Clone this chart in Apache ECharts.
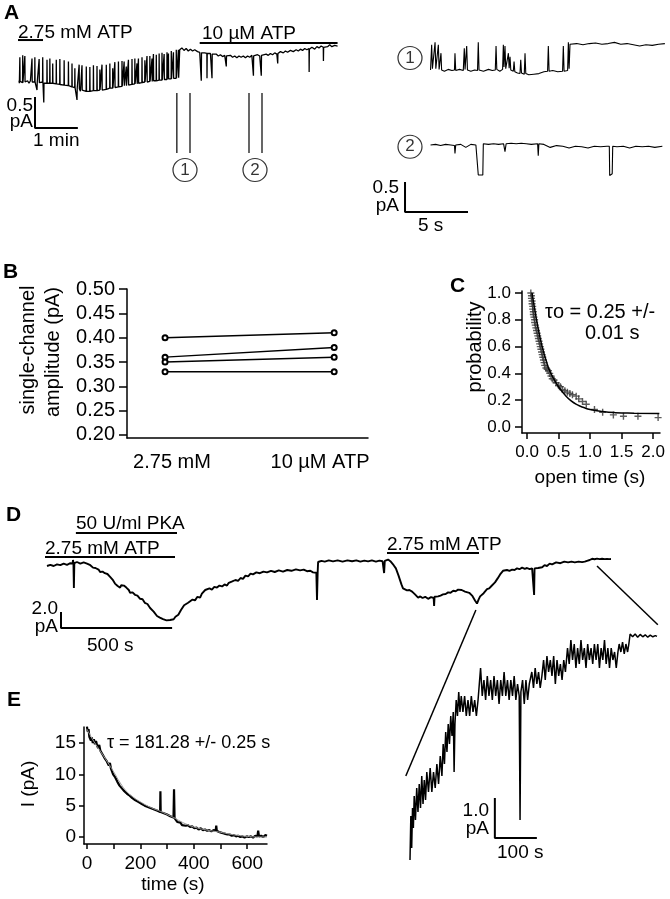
<!DOCTYPE html>
<html><head><meta charset="utf-8">
<script src="https://cdn.jsdelivr.net/npm/echarts@6/dist/echarts.min.js"></script>
<style>html,body{margin:0;padding:0;background:#fff}#c{width:670px;height:899px}</style>
</head><body><div id="c"></div>
<script>
// ---------- DATA ----------
// Panel A: long recording (time s, current pA rel. to start)
const traceA = [[0,0.02],[0.5,-0.02],[1,0.01],[1.2,0.40],[1.5,0.01],[3,-0.02],[5,-0.01],[5.2,0.43],[5.5,-0.01],[6.5,0.02],[8,0],[8.2,0.42],[8.5,0],[10,-0.03],[12,0.02],[14,-0.02],[16,0.02],[18,0],[18.2,0.38],[18.5,0],[20,-0.03],[22,0],[22.2,0.40],[22.5,0],[24,0.02],[25,-0.01],[25.2,-0.13],[25.5,-0.01],[27,0.02],[28,-0.01],[28.2,0.37],[28.5,-0.01],[30.5,-0.04],[33,0],[33.2,0.40],[33.5,0],[34.5,-0.02],[34.7,-0.33],[35,-0.02],[37,0.01],[39,-0.02],[39.2,0.36],[39.5,-0.02],[41,-0.05],[43,-0.02],[43.2,0.38],[43.5,-0.02],[45,0.01],[47,-0.02],[47.2,0.30],[47.5,-0.02],[50,-0.05],[52,-0.03],[52.2,0.36],[52.5,-0.03],[55,0.0],[57,-0.04],[57.2,0.37],[57.5,-0.04],[60,-0.07],[63,-0.05],[63.2,0.35],[63.5,-0.05],[66,-0.02],[69,-0.06],[69.2,0.33],[69.5,-0.06],[72,-0.09],[74,-0.08],[74.2,0.30],[74.5,-0.08],[76,-0.05],[78,-0.09],[78.2,0.22],[78.5,-0.09],[80,-0.12],[81,-0.10],[81.2,-0.29],[81.5,-0.10],[84,-0.11],[84.2,0.28],[84.5,-0.11],[86,-0.15],[88,-0.13],[88.2,0.27],[88.5,-0.13],[91,-0.11],[94,-0.15],[94.2,0.25],[94.5,-0.15],[97,-0.18],[99,-0.15],[99.2,0.24],[99.5,-0.15],[102,-0.12],[104,-0.14],[104.2,0.27],[104.5,-0.14],[107,-0.17],[109,-0.14],[109.2,0.26],[109.5,-0.14],[111,-0.11],[113,-0.13],[113.2,0.20],[113.5,-0.13],[116,-0.13],[116.2,0.28],[116.5,-0.13],[119,-0.16],[122,-0.12],[122.2,0.28],[122.5,-0.12],[125,-0.09],[127,-0.10],[127.2,0.30],[127.5,-0.10],[129,-0.13],[131,-0.10],[131.2,0.22],[131.5,-0.10],[134,-0.09],[134.2,0.32],[134.5,-0.09],[137,-0.06],[139,-0.08],[139.2,0.33],[139.5,-0.08],[142,-0.10],[144,-0.07],[144.2,0.34],[144.5,-0.07],[147,-0.06],[147.2,0.33],[147.5,-0.06],[150,-0.06],[150.2,0.25],[150.5,-0.06],[152,-0.03],[153,-0.05],[153.2,0.36],[153.5,-0.05],[156,-0.07],[158,-0.04],[158.2,0.37],[158.5,-0.04],[160,-0.01],[162,-0.03],[162.2,0.38],[162.5,-0.03],[165,-0.03],[165.2,0.30],[165.5,-0.03],[167,-0.02],[167.2,0.38],[167.5,-0.02],[170,0.01],[172,-0.01],[172.2,0.40],[172.5,-0.01],[174,-0.04],[176,0],[176.2,0.35],[176.5,0],[179,0],[179.2,0.42],[179.5,0],[181,0.03],[183,0.01],[183.2,0.42],[183.5,0.01],[186,0.01],[186.2,0.38],[186.5,0.01],[188,0.02],[188.2,0.45],[188.5,0.02],[190,-0.01],[192,0.02],[192.2,0.44],[192.5,0.02],[194,0.05],[196,0.03],[196.2,0.46],[196.5,0.03],[198,0],[200,0.03],[200.2,0.47],[200.5,0.03],[203,0.04],[203.2,0.45],[203.5,0.04],[205,0.07],[207,0.04],[207.2,0.48],[207.5,0.04],[209,0.05],[209.2,0.46],[209.5,0.05],[211,0.02],[213,0.05],[213.2,0.50],[213.5,0.05],[216,0.06],[216.2,0.48],[216.5,0.06],[218,0.09],[220,0.06],[220.2,0.52],[220.5,0.06],[223,0.07],[223.2,0.52],[223.5,0.07],[224.8,0.08],[225,0.52],[228,0.55],[231,0.51],[234,0.54],[237,0.50],[240,0.53],[243,0.50],[246,0.52],[250,0.49],[253,0.48],[255,0.47],[255.2,0.02],[255.5,0.47],[258,0.44],[260,0.47],[263,0.46],[263.2,0.06],[263.5,0.46],[266,0.43],[268,0.46],[270,0.45],[270.2,0.06],[270.5,0.45],[273,0.42],[276,0.45],[279,0.42],[282,0.44],[285,0.41],[288,0.43],[290,0.42],[290.2,0.25],[290.5,0.42],[293,0.40],[296,0.43],[299,0.40],[302,0.42],[305,0.39],[308,0.42],[311,0.40],[314,0.42],[317,0.39],[320,0.42],[323,0.40],[326,0.43],[328,0.42],[328.2,0.10],[328.5,0.42],[331,0.41],[334,0.44],[337,0.42],[339,0.43],[339.2,0.10],[339.5,0.43],[342,0.42],[346,0.45],[349,0.43],[352,0.46],[355,0.44],[358,0.47],[361,0.45],[362,0.46],[362.2,0.30],[362.5,0.46],[366,0.49],[370,0.47],[373,0.50],[376,0.48],[380,0.51],[384,0.49],[388,0.52],[391,0.50],[394,0.53],[397,0.51],[400,0.54],[403,0.52],[406,0.54],[406.2,0.16],[406.5,0.53],[410,0.56],[414,0.53],[417,0.57],[420,0.55],[423,0.58],[426,0.56],[426.2,0.34],[426.5,0.56],[429,0.59],[432,0.57],[435,0.60],[438,0.57],[442,0.59],[446,0.58]];
// Panel A excerpts (time s, current pA)
const traceA1 = [[0.2,0.00],[0.29,0.42],[0.35,0.02],[0.5,0.01],[0.56,0.46],[0.62,0.02],[0.76,0.00],[0.82,0.42],[0.88,0.01],[0.98,0.02],[1.03,0.28],[1.08,0.00],[1.3,-0.02],[1.6,0.01],[1.9,-0.01],[2.1,0.00],[2.14,0.28],[2.2,-0.01],[2.5,0.01],[2.8,-0.01],[2.88,0.36],[2.94,0.01],[3.02,0.00],[3.07,0.40],[3.13,0.00],[3.4,-0.02],[3.7,0.00],[3.93,-0.01],[3.99,0.46],[4.05,0.00],[4.4,-0.02],[4.8,0.01],[5.1,-0.01],[5.34,0.00],[5.4,0.40],[5.46,0.01],[5.7,-0.02],[5.92,0.01],[5.98,0.42],[6.03,0.05],[6.11,0.40],[6.17,0.02],[6.3,0.01],[6.38,0.28],[6.44,0.03],[6.51,0.22],[6.57,0.00],[6.77,-0.02],[6.83,0.14],[6.89,-0.03],[7.1,-0.05],[7.3,-0.06],[7.36,0.17],[7.42,-0.05],[7.64,-0.07],[7.7,0.28],[7.76,-0.06],[8.0,-0.08],[8.4,-0.07],[8.8,-0.06],[9.2,-0.03],[9.49,-0.02],[9.55,0.40],[9.61,-0.02],[9.9,-0.01],[10.3,-0.03],[10.68,-0.02],[10.74,0.40],[10.8,-0.02],[11.08,-0.01],[11.14,0.46],[11.2,0.02],[11.27,0.43],[11.8,0.44],[12.3,0.42],[12.8,0.44],[13.3,0.45],[13.8,0.43],[14.3,0.44],[14.8,0.46],[15.3,0.43],[15.8,0.44],[16.3,0.42],[16.8,0.40],[17.3,0.42],[17.8,0.41],[18.3,0.43],[18.8,0.44]];
const traceA2 = [[0.2,0.00],[0.6,0.01],[1.0,-0.01],[1.4,0.01],[1.8,0.00],[2.1,-0.01],[2.14,-0.14],[2.2,0.00],[2.6,0.01],[3.0,-0.04],[3.4,0.01],[3.8,0.00],[3.95,0.00],[3.99,-0.50],[4.35,-0.50],[4.39,0.02],[4.8,0.01],[5.2,0.02],[5.6,0.01],[6.0,0.02],[6.11,-0.11],[6.2,0.02],[6.6,0.03],[7.0,0.02],[7.4,0.03],[7.8,0.02],[8.2,0.01],[8.7,0.02],[8.75,-0.18],[8.8,0.02],[9.2,0.01],[9.7,-0.04],[10.2,-0.01],[10.7,-0.02],[11.2,-0.05],[11.7,-0.02],[12.2,-0.03],[12.7,-0.05],[13.2,-0.02],[13.7,-0.03],[14.2,-0.02],[14.39,-0.02],[14.42,-0.51],[14.62,-0.48],[14.66,-0.02],[15.0,-0.03],[15.5,-0.02],[16.0,-0.05],[16.5,-0.02],[17.0,-0.03],[17.5,-0.02],[18.0,-0.04],[18.6,-0.02]];
// Panel B: single-channel amplitude (pA)
const ampCategories = ['2.75 mM', '10 \u00b5M ATP'];
const ampBefore = [0.40, 0.36, 0.35, 0.33];
const ampAfter  = [0.41, 0.38, 0.36, 0.33];
const bTicks = [0.20, 0.25, 0.30, 0.35, 0.40, 0.45, 0.50];
// Panel C: open time distribution
const openTimes = [[0.06,1.0],[0.07,0.98],[0.07,0.96],[0.08,0.94],[0.08,0.92],[0.09,0.90],[0.09,0.88],[0.10,0.86],[0.10,0.84],[0.11,0.82],[0.12,0.80],[0.12,0.78],[0.13,0.76],[0.14,0.74],[0.15,0.72],[0.16,0.70],[0.17,0.68],[0.18,0.66],[0.19,0.64],[0.20,0.62],[0.21,0.60],[0.22,0.58],[0.23,0.56],[0.24,0.54],[0.25,0.52],[0.26,0.50],[0.27,0.48],[0.28,0.46],[0.30,0.44],[0.32,0.43],[0.34,0.42],[0.36,0.40],[0.38,0.38],[0.40,0.36],[0.43,0.35],[0.46,0.33],[0.50,0.31],[0.53,0.30],[0.56,0.28],[0.60,0.27],[0.64,0.26],[0.68,0.25],[0.72,0.24],[0.78,0.23],[0.82,0.21],[0.88,0.19],[0.94,0.17],[1.07,0.13],[1.2,0.11],[1.37,0.09],[1.53,0.08],[1.76,0.08],[2.08,0.07]];
const openTimeFit = [[0.08,1.0],[0.1,0.94],[0.15,0.80],[0.2,0.68],[0.25,0.58],[0.3,0.50],[0.35,0.43],[0.4,0.38],[0.5,0.30],[0.6,0.24],[0.7,0.195],[0.8,0.165],[0.9,0.145],[1.0,0.13],[1.2,0.115],[1.4,0.107],[1.7,0.103],[2.1,0.10]];
const cXTicks = [0, 0.5, 1.0, 1.5, 2.0];
const cYTicks = [0, 0.2, 0.4, 0.6, 0.8, 1.0];
// Panel D: macroscopic recording (time s, current pA)
const traceD = [[0,0.0],[15,0.15],[30,0.0],[45,0.2],[60,0.1],[75,0.3],[90,0.15],[105,0.35],[115,0.3],[117,0.75],[119,0.35],[121,-2.75],[123,0.35],[135,0.5],[150,0.3],[165,0.45],[180,0.3],[195,0.1],[207,-0.2],[218,-0.25],[225,-0.5],[232,-0.45],[239,-0.75],[250,-0.7],[260,-0.9],[272,-1.0],[284,-1.35],[290,-1.3],[295,-1.7],[300,-1.8],[306,-2.2],[312,-2.15],[318,-2.5],[323,-2.45],[329,-2.7],[334,-2.4],[340,-2.2],[346,-2.45],[351,-2.3],[357,-2.7],[362,-2.95],[368,-3.0],[374,-3.35],[385,-3.3],[396,-3.6],[407,-3.7],[419,-4.1],[430,-4.15],[440,-4.6],[452,-4.75],[464,-5.25],[472,-5.3],[480,-5.7],[488,-5.8],[495,-6.25],[502,-6.2],[508,-6.45],[515,-6.35],[522,-6.65],[530,-6.5],[538,-6.8],[546,-6.6],[554,-6.75],[562,-6.5],[570,-6.65],[578,-6.35],[585,-6.5],[591,-6.1],[597,-6.0],[603,-5.5],[608,-5.35],[617,-4.9],[626,-5.0],[635,-4.6],[644,-4.6],[655,-4.2],[666,-4.3],[677,-3.85],[689,-3.95],[697,-3.45],[705,-3.5],[712,-3.0],[720,-3.1],[731,-2.8],[742,-2.95],[753,-2.6],[765,-2.7],[776,-2.45],[788,-2.55],[799,-2.3],[810,-2.45],[818,-2.1],[825,-2.2],[831,-1.95],[837,-2.05],[848,-1.75],[860,-1.85],[871,-1.5],[882,-1.6],[893,-1.2],[905,-1.3],[916,-0.95],[927,-1.05],[942,-0.8],[958,-0.9],[974,-0.7],[990,-0.8],[1008,-0.6],[1025,-0.75],[1043,-0.55],[1062,-0.7],[1081,-0.5],[1100,-0.6],[1120,-0.42],[1139,-0.55],[1155,-0.45],[1170,-0.65],[1185,-0.6],[1197,-0.8],[1205,-0.7],[1212,-0.85],[1215,-4.25],[1218,-0.8],[1220,0.5],[1235,0.65],[1250,0.55],[1268,0.7],[1287,0.58],[1308,0.7],[1330,0.55],[1352,0.7],[1373,0.6],[1392,0.7],[1410,0.55],[1428,0.68],[1445,0.58],[1462,0.7],[1480,0.55],[1496,0.68],[1510,0.6],[1517,-0.88],[1520,0.63],[1528,0.7],[1535,0.8],[1545,0.6],[1553,0.4],[1560,0.1],[1565,-0.1],[1570,-0.3],[1575,-0.55],[1582,-1.2],[1589,-1.8],[1595,-2.3],[1602,-2.8],[1611,-2.9],[1620,-3.05],[1631,-3.0],[1643,-3.2],[1650,-3.35],[1656,-3.55],[1663,-3.7],[1670,-3.95],[1680,-3.8],[1690,-4.0],[1702,-3.85],[1715,-4.1],[1728,-3.9],[1740,-4.0],[1742,-5.0],[1744,-3.85],[1752,-4.0],[1760,-3.8],[1771,-3.7],[1782,-3.55],[1794,-3.5],[1805,-3.3],[1816,-3.35],[1828,-3.1],[1839,-3.15],[1850,-2.95],[1858,-3.05],[1866,-3.0],[1874,-3.2],[1881,-3.2],[1890,-3.45],[1900,-3.35],[1907,-3.6],[1913,-3.7],[1920,-3.95],[1926,-4.3],[1931,-4.4],[1935,-4.7],[1942,-4.2],[1949,-3.8],[1957,-3.7],[1965,-3.4],[1972,-3.3],[1980,-2.9],[1990,-2.8],[2000,-2.5],[2008,-2.4],[2016,-2.05],[2022,-1.9],[2028,-1.55],[2034,-1.4],[2039,-1.05],[2045,-0.9],[2052,-0.6],[2060,-0.7],[2070,-0.5],[2081,-0.6],[2093,-0.45],[2104,-0.5],[2115,-0.3],[2126,-0.4],[2138,-0.2],[2150,-0.35],[2160,-0.25],[2172,-0.4],[2183,-0.3],[2190,-0.4],[2192,-3.63],[2194,-0.3],[2202,-0.15],[2210,-0.25],[2219,-0.05],[2228,-0.15],[2239,0.1],[2250,0.0],[2262,0.3],[2273,0.2],[2291,0.45],[2310,0.35],[2328,0.55],[2345,0.45],[2360,0.55],[2375,0.45],[2392,0.55],[2408,0.48],[2420,0.55],[2430,0.65],[2442,0.75],[2453,0.9],[2464,0.85],[2475,0.92],[2487,0.86],[2498,0.9],[2510,0.86],[2520,0.88],[2530,0.86],[2538,0.88]];
// Panel D inset: expanded recovery (time s, current pA)
const traceInset = [[1940,-4.7],[1942,-3.6],[1944,-4.4],[1946,-3.4],[1948,-3.9],[1950,-3.1],[1953,-3.7],[1956,-2.9],[1959,-3.5],[1962,-2.8],[1965,-3.4],[1968,-2.6],[1971,-3.3],[1974,-2.7],[1977,-3.2],[1980,-2.5],[1984,-3.0],[1988,-2.4],[1992,-3.0],[1996,-2.5],[2000,-2.9],[2004,-2.3],[2008,-2.8],[2012,-2.1],[2016,-2.6],[2019,-1.8],[2022,-2.3],[2025,-1.5],[2028,-2.0],[2031,-1.3],[2034,-1.8],[2037,-1.1],[2040,-1.6],[2043,-1.0],[2045,-2.5],[2047,-1.3],[2050,-0.7],[2053,-1.1],[2056,-0.5],[2059,-1.0],[2062,-0.6],[2066,-1.0],[2070,-0.6],[2074,-1.1],[2078,-0.7],[2082,-1.1],[2086,-0.6],[2090,-1.0],[2094,-0.7],[2098,-1.1],[2102,-0.7],[2105,-0.3],[2108,0.1],[2112,-0.6],[2116,-0.2],[2120,-0.7],[2124,-0.1],[2128,-0.6],[2132,-0.2],[2136,-0.7],[2140,-0.1],[2144,-0.6],[2148,-0.2],[2152,-0.8],[2156,-0.2],[2160,-0.6],[2164,0.0],[2168,-0.6],[2172,-0.2],[2176,-0.7],[2180,-0.2],[2184,-0.6],[2188,-0.1],[2192,-0.7],[2196,-0.3],[2200,-0.6],[2202,-3.7],[2204,-0.5],[2208,-0.2],[2212,-0.8],[2216,-0.2],[2220,-0.7],[2224,-0.3],[2230,0.0],[2234,-0.4],[2238,0.1],[2242,-0.3],[2246,0.0],[2250,-0.4],[2254,-0.1],[2258,0.3],[2262,-0.2],[2266,0.4],[2270,0.0],[2274,0.3],[2278,-0.1],[2282,0.4],[2286,-0.3],[2290,0.3],[2294,-0.1],[2298,0.2],[2302,-0.2],[2306,0.3],[2310,0.0],[2315,0.6],[2319,0.2],[2323,0.8],[2327,0.3],[2331,0.7],[2335,0.1],[2339,0.6],[2343,0.2],[2347,0.8],[2351,0.3],[2355,0.6],[2359,0.1],[2363,0.7],[2367,0.3],[2371,0.6],[2375,0.2],[2379,0.7],[2383,0.3],[2387,0.7],[2391,0.1],[2395,0.6],[2399,0.3],[2403,0.8],[2407,0.2],[2411,0.6],[2415,0.1],[2419,0.6],[2423,0.3],[2427,0.5],[2431,0.1],[2435,0.5],[2438,0.7],[2442,0.5],[2446,0.75],[2450,0.45],[2454,0.7],[2458,0.5],[2461,0.7],[2464,0.95],[2470,0.88],[2476,0.95],[2482,0.87],[2488,0.94],[2494,0.88],[2500,0.93],[2506,0.87],[2512,0.92],[2518,0.88],[2524,0.91],[2528,0.89]];
// Panel E: current decay (time s, I pA) and exponential fit
const traceE = [[0,17.6],[3,16.8],[6,17.2],[9,16.0],[12,16.3],[15,15.4],[18,15.9],[22,15.0],[26,15.6],[30,14.8],[34,15.3],[38,14.6],[42,14.2],[46,14.7],[50,13.8],[54,14.1],[58,13.2],[62,13.5],[66,12.6],[70,12.9],[74,12.1],[78,12.2],[82,11.4],[86,11.8],[90,10.9],[94,10.6],[98,10.0],[102,10.3],[106,9.5],[110,9.3],[114,8.8],[118,8.9],[122,8.2],[126,8.5],[130,7.8],[135,7.9],[140,7.3],[145,7.5],[150,6.9],[155,7.1],[160,6.6],[165,6.8],[170,6.2],[175,6.4],[180,5.9],[186,6.1],[192,5.6],[198,5.8],[204,5.3],[210,5.5],[216,5.0],[222,5.2],[228,4.8],[234,5.0],[240,4.6],[246,4.8],[252,4.4],[258,4.6],[264,4.2],[270,4.4],[274,4.0],[275,7.3],[276,4.0],[282,4.2],[288,3.8],[294,4.0],[300,3.6],[306,3.7],[312,3.3],[318,3.4],[324,3.1],[326,7.6],[328,3.0],[332,2.7],[338,2.4],[344,2.1],[350,2.3],[356,1.9],[362,2.1],[370,1.8],[378,1.9],[386,1.6],[394,1.7],[402,1.4],[410,1.5],[418,1.2],[426,1.4],[434,1.1],[442,1.2],[450,1.0],[458,1.1],[466,0.9],[474,1.1],[482,1.0],[484,1.8],[486,1.0],[494,0.8],[502,0.7],[510,0.6],[518,0.5],[526,0.4],[534,0.4],[542,0.2],[550,0.3],[558,0.1],[566,0.2],[574,0.0],[582,0.1],[590,-0.1],[598,0.1],[606,0.0],[614,0.1],[622,-0.1],[630,0.2],[638,0.1],[641,1.0],[644,0.1],[652,0.2],[660,0.0],[668,0.3],[674,0.2]];
const fitE = [[0,17.2],[25,15.3],[50,13.7],[75,12.1],[100,10.4],[125,8.6],[150,7.2],[175,6.3],[200,5.6],[225,5.0],[250,4.5],[275,4.1],[300,3.6],[325,3.1],[350,2.5],[375,2.0],[400,1.6],[450,1.1],[500,0.75],[550,0.35],[600,0.1],[650,0.0],[674,0.0]];
const eXTicks = [0, 200, 400, 600];
const eXMinor = [0, 100, 200, 300, 400, 500, 600];
const eYTicks = [0, 5, 10, 15];

// ---------- CHART ----------
const FF = "'Liberation Sans', Arial, Helvetica, sans-serif";
const chart = echarts.init(document.getElementById('c'), null, {renderer: 'canvas'});
const K = '#000';
function L(xi, data, w, extra) {
  return Object.assign({type: 'line', xAxisIndex: xi, yAxisIndex: xi, data: data, showSymbol: false, symbol: 'none',
    clip: false, silent: true, animation: false, lineStyle: {color: K, width: w}}, extra || {});
}
function circ(xi, pts, labels) {
  return {type: 'scatter', xAxisIndex: xi, yAxisIndex: xi, clip: false, silent: true, symbol: 'circle', symbolSize: [24, 23],
    itemStyle: {color: '#fff', borderColor: K, borderWidth: 1.2},
    label: {show: true, position: 'inside', color: K, fontFamily: FF, fontSize: 17, formatter: p => labels[p.dataIndex]},
    data: pts};
}
const hid = (g, min, max) => ({gridIndex: g, type: 'value', min: min, max: max, show: false});
const axStyle = {onZero: false, lineStyle: {color: K, width: 1.5}};

const series = [];
// A main
series.push(L(0, traceA, 1.3));
series.push(L(0, [[-1.4, 0.677], [33.6, 0.677]], 2));
series.push(L(0, [[253, 0.629], [446, 0.629]], 2));
[221, 239.4, 322, 340.2].forEach(t => series.push(L(0, [[t, -0.177], [t, -1.145]], 1.2)));
series.push(L(0, [[22.4, -0.242], [22.4, -0.742], [82.4, -0.742]], 2));
series.push(circ(0, [[232.4, -1.42], [330.4, -1.42]], ['1', '2']));
// A excerpts
series.push(L(1, traceA1, 1.1));
series.push(circ(1, [[-1.43, 0.2]], ['1']));
series.push(L(2, traceA2, 1.1));
series.push(circ(2, [[-1.43, -0.03]], ['2']));
series.push(L(2, [[-1.825, -0.617], [-1.825, -1.117], [3.175, -1.117]], 2));
// B
ampBefore.forEach((v, i) => series.push({type: 'line', xAxisIndex: 3, yAxisIndex: 3, silent: true, animation: false,
  data: [[0, v], [1, ampAfter[i]]], symbol: 'emptyCircle', symbolSize: 5,
  itemStyle: {color: K, borderWidth: 1}, lineStyle: {color: K, width: 1.5}}));
// C
series.push({type: 'scatter', xAxisIndex: 4, yAxisIndex: 4, silent: true, animation: false, data: openTimes,
  symbol: 'path://M4,0H6V4H10V6H6V10H4V6H0V4H4Z', symbolSize: 7, itemStyle: {color: '#333'}});
series.push(L(4, openTimeFit, 1.5, {smooth: true}));
// D
series.push(L(5, traceD, 1.9));
series.push(L(5, [[130, 4.13], [585, 4.13]], 2));
series.push(L(5, [[-9, 1.13], [576, 1.13]], 2));
series.push(L(5, [[1530, 1.63], [1944, 1.63]], 2));
series.push(L(5, [[63, -5.75], [63, -7.75], [563, -7.75]], 2));
// Inset
series.push(L(6, traceInset, 1.5));
series.push(L(6, [[2142, -3.15], [2142, -4.15], [2242, -4.15]], 2));
// E
series.push(L(7, traceE, 2.2));
series.push(L(7, fitE, 1, {smooth: true, lineStyle: {color: '#999', width: 1}}));

const option = {
  backgroundColor: '#fff',
  animation: false,
  textStyle: {fontFamily: FF, color: K},
  grid: [
    {left: 18, top: 30, width: 320, height: 150},
    {left: 395, top: 35, width: 270, height: 45},
    {left: 395, top: 125, width: 270, height: 90},
    {left: 127, top: 289, width: 241, height: 149},
    {left: 522, top: 291, width: 138, height: 142},
    {left: 45, top: 520, width: 566, height: 120},
    {left: 410, top: 620, width: 247, height: 250},
    {left: 84, top: 727, width: 183, height: 117}
  ],
  xAxis: [
    hid(0, -1.4, 446.6), hid(1, -2.62, 18.81), hid(2, -2.62, 18.81),
    {gridIndex: 3, type: 'value', min: -0.225, max: 1.2, axisLine: axStyle, axisTick: {show: false},
      axisLabel: {show: false}, splitLine: {show: false}},
    {gridIndex: 4, type: 'value', min: -0.08, max: 2.11, axisLine: axStyle,
      axisTick: {show: true, length: 6, customValues: cXTicks, lineStyle: {color: K, width: 1.5}},
      axisLabel: {customValues: cXTicks, formatter: v => v.toFixed(1), fontSize: 17, color: K, margin: 11, fontFamily: FF},
      splitLine: {show: false}},
    hid(5, -9, 2538), hid(6, 1940, 2528),
    {gridIndex: 7, type: 'value', min: -11, max: 674, axisLine: axStyle,
      axisTick: {show: true, length: 5, customValues: eXMinor, lineStyle: {color: K, width: 1.5}},
      axisLabel: {customValues: eXTicks, fontSize: 19, color: K, margin: 10, fontFamily: FF},
      splitLine: {show: false}}
  ],
  yAxis: [
    hid(0, -1.581, 0.839), hid(1, -0.167, 0.583), hid(2, -1.167, 0.333),
    {gridIndex: 3, type: 'value', min: 0.1938, max: 0.5, axisLine: axStyle,
      axisTick: {show: true, length: 8, customValues: bTicks, lineStyle: {color: K, width: 1.5}},
      axisLabel: {customValues: bTicks, formatter: v => v.toFixed(2), fontSize: 20, color: K, margin: 12, fontFamily: FF},
      splitLine: {show: false}},
    {gridIndex: 4, type: 'value', min: -0.045, max: 1.015, axisLine: axStyle,
      axisTick: {show: true, length: 7, customValues: cYTicks, lineStyle: {color: K, width: 1.5}},
      axisLabel: {customValues: cYTicks, formatter: v => v.toFixed(1), fontSize: 17, color: K, margin: 11, fontFamily: FF},
      splitLine: {show: false}},
    hid(5, -9.25, 5.75), hid(6, -4.95, 1.3),
    {gridIndex: 7, type: 'value', min: -1.116, max: 17.55, axisLine: axStyle,
      axisTick: {show: true, length: 5, customValues: eYTicks, lineStyle: {color: K, width: 1.5}},
      axisLabel: {customValues: eYTicks, fontSize: 19, color: K, margin: 8, fontFamily: FF},
      splitLine: {show: false}}
  ],
  series: series
};
chart.setOption(option);

function T(x, y, text, o) {
  o = o || {};
  return {type: 'text', x: x, y: y, rotation: o.rot || 0, silent: true, z: 100,
    style: {text: text, fill: K, fontFamily: FF, fontSize: o.fs || 19, fontWeight: o.fw || 'normal',
      align: o.al || 'left', verticalAlign: o.va || 'middle'}};
}
const B = {fs: 21, fw: 'bold', va: 'top'};
const g = [
  T(4, 3, 'A', B), T(18, 33, '2.75 mM ATP'), T(202, 34, '10 \u00b5M ATP'),
  T(33, 106, '0.5', {al: 'right'}), T(33, 122, 'pA', {al: 'right'}), T(33, 141, '1 min'),
  T(399, 188, '0.5', {al: 'right'}), T(399, 206, 'pA', {al: 'right'}), T(418, 226, '5 s'),
  T(3, 262, 'B', B),
  T(28, 350, 'single-channel', {al: 'center', rot: Math.PI / 2, fs: 20}),
  T(53, 352, 'amplitude (pA)', {al: 'center', rot: Math.PI / 2, fs: 20}),
  T(172, 462, ampCategories[0], {al: 'center', fs: 20}), T(320, 462, ampCategories[1], {al: 'center', fs: 20}),
  T(450, 276, 'C', B),
  T(475, 347, 'probability', {al: 'center', rot: Math.PI / 2, fs: 20}),
  T(545, 312, '\u03c4o = 0.25 +/-', {fs: 20}), T(585, 333, '0.01 s', {fs: 20}),
  T(590, 478, 'open time (s)', {al: 'center', fs: 19}),
  T(6, 505, 'D', B), T(76, 524, '50 U/ml PKA'), T(45, 549, '2.75 mM ATP'), T(387, 545, '2.75 mM ATP'),
  T(58, 609, '2.0', {al: 'right'}), T(58, 627, 'pA', {al: 'right'}), T(87, 646, '500 s'),
  T(489, 811, '1.0', {al: 'right'}), T(489, 829, 'pA', {al: 'right'}), T(497, 853, '100 s'),
  T(7, 690, 'E', B),
  T(107, 743, '\u03c4 = 181.28 +/- 0.25 s', {fs: 18}),
  T(29, 784, 'I (pA)', {al: 'center', rot: Math.PI / 2, fs: 19}),
  T(173, 885, 'time (s)', {al: 'center', fs: 19})
];
// connector lines from D trace to the expanded inset, via the library's coordinate conversion
const a1 = chart.convertToPixel({gridIndex: 5}, [1930, -5.5]);
const b1 = chart.convertToPixel({gridIndex: 6}, [1930, -2.6]);
const a2 = chart.convertToPixel({gridIndex: 5}, [2475, 0.0]);
const b2 = chart.convertToPixel({gridIndex: 6}, [2530, 1.18]);
[[a1, b1], [a2, b2]].forEach(p => g.push({type: 'line', silent: true,
  shape: {x1: p[0][0], y1: p[0][1], x2: p[1][0], y2: p[1][1]}, style: {stroke: K, lineWidth: 1.5}}));
chart.setOption({graphic: g});
</script>
</body></html>
